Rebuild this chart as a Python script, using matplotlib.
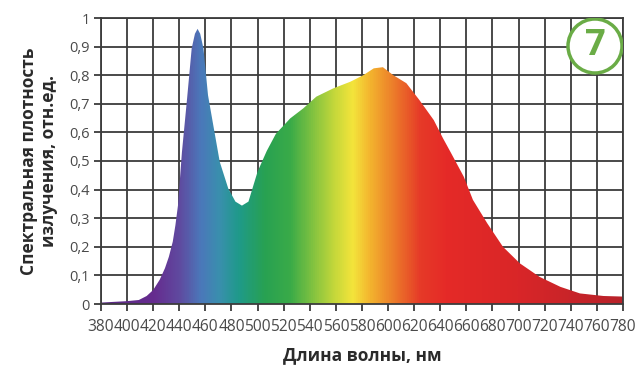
import matplotlib.pyplot as plt
import numpy as np
from matplotlib.colors import LinearSegmentedColormap
from matplotlib.patches import Ellipse

# spectrum
wavelength = [380, 400, 409, 415, 420, 425, 429, 432, 435, 437, 439, 442, 446, 449.5, 452, 454,
              456, 458.5, 462, 466, 471, 477.5, 483, 488, 493, 500, 507, 514, 525, 535, 545,
              558, 571, 581, 589, 596, 604, 614, 624, 635, 642, 648, 658, 665, 676, 688,
              701, 716, 732, 747, 765, 780]
intensity = [0.005, 0.010, 0.014, 0.028, 0.049, 0.085, 0.125, 0.165, 0.218, 0.275, 0.345, 0.53,
             0.72, 0.894, 0.945, 0.962, 0.945, 0.894, 0.73, 0.626, 0.497, 0.404, 0.358, 0.344,
             0.358, 0.463, 0.535, 0.595, 0.649, 0.684, 0.725, 0.754, 0.777, 0.80, 0.824,
             0.828, 0.80, 0.772, 0.713, 0.643, 0.58, 0.53, 0.445, 0.364, 0.282, 0.2, 0.142,
             0.095, 0.06, 0.037, 0.028, 0.026]

xticks = list(range(380, 781, 20))
yticks = [0, 0.1, 0.2, 0.3, 0.4, 0.5, 0.6, 0.7, 0.8, 0.9, 1]
ytick_labels = ['0', '0,1', '0,2', '0,3', '0,4', '0,5', '0,6', '0,7', '0,8', '0,9', '1']

# colour stops of the spectrum fill (wavelength, colour)
stops = [(380, '#5a2a85'), (420, '#662c8f'), (440, '#5f4ba0'), (456, '#4b78ba'),
         (470, '#3a8fae'), (485, '#1f9a8a'), (505, '#28a152'), (525, '#3aab48'),
         (545, '#8dc63f'), (560, '#c9d93a'), (573, '#f4e43b'), (587, '#f3b22e'),
         (605, '#ec7a2a'), (625, '#e63a28'), (645, '#e52a27'), (700, '#d92628'),
         (780, '#b8222a')]

fig = plt.figure(figsize=(6.39, 3.67), dpi=100)
ax = fig.add_axes([101 / 639, 1 - 304 / 367, 522 / 639, 286 / 367])

grid_c = '#3c3c3c'
ax.set_xlim(380, 780)
ax.set_ylim(0, 1)
ax.set_xticks(xticks)
ax.set_yticks(yticks)
ax.set_yticklabels(ytick_labels)
ax.grid(True, color=grid_c, linewidth=1.3)
ax.set_axisbelow(True)
for s in ax.spines.values():
    s.set_color(grid_c)
    s.set_linewidth(1.3)
ax.tick_params(axis='both', direction='out', length=5, width=1.3, color=grid_c,
               labelcolor='#4a4a4a', labelsize=10.5, pad=3)
ax.tick_params(axis='x', pad=6, labelsize=11.2)
for lab in ax.get_xticklabels() + ax.get_yticklabels():
    lab.set_family('Open Sans')

# gradient fill clipped to the spectrum shape
cmap = LinearSegmentedColormap.from_list(
    'spec', [((w - 380) / 400, c) for w, c in stops])
poly = ax.fill_between(wavelength, intensity, 0, color='none', lw=0)
grad = np.linspace(0, 1, 800).reshape(1, -1)
im = ax.imshow(grad, cmap=cmap, extent=[380, 780, 0, 1], aspect='auto', zorder=2)
path = poly.get_paths()[0]
im.set_clip_path(path, transform=ax.transData)

ax.set_xlabel('Длина волны, нм', fontsize=12.5, fontweight='bold', color='#2a2a2a',
              family='Open Sans', labelpad=8)
ax.set_ylabel('Спектральная плотность\nизлучения, отн.ед.', fontsize=12.5,
              fontweight='bold', color='#2a2a2a', family='Open Sans', labelpad=8,
              linespacing=1.15)

# badge "7"
cx, cy = (595 - 101) / 522, (304 - 46) / 286
ell = Ellipse((cx, cy), 54 / 522, 54 / 286, transform=ax.transAxes, facecolor='white',
              edgecolor='#6aac46', linewidth=2.5, zorder=5)
ax.add_patch(ell)
ax.text(cx, cy, '7', transform=ax.transAxes, ha='center', va='center', fontsize=26,
        fontweight='bold', color='#6aac46', family='Open Sans', zorder=6)

fig.savefig('out.png', dpi=100)
